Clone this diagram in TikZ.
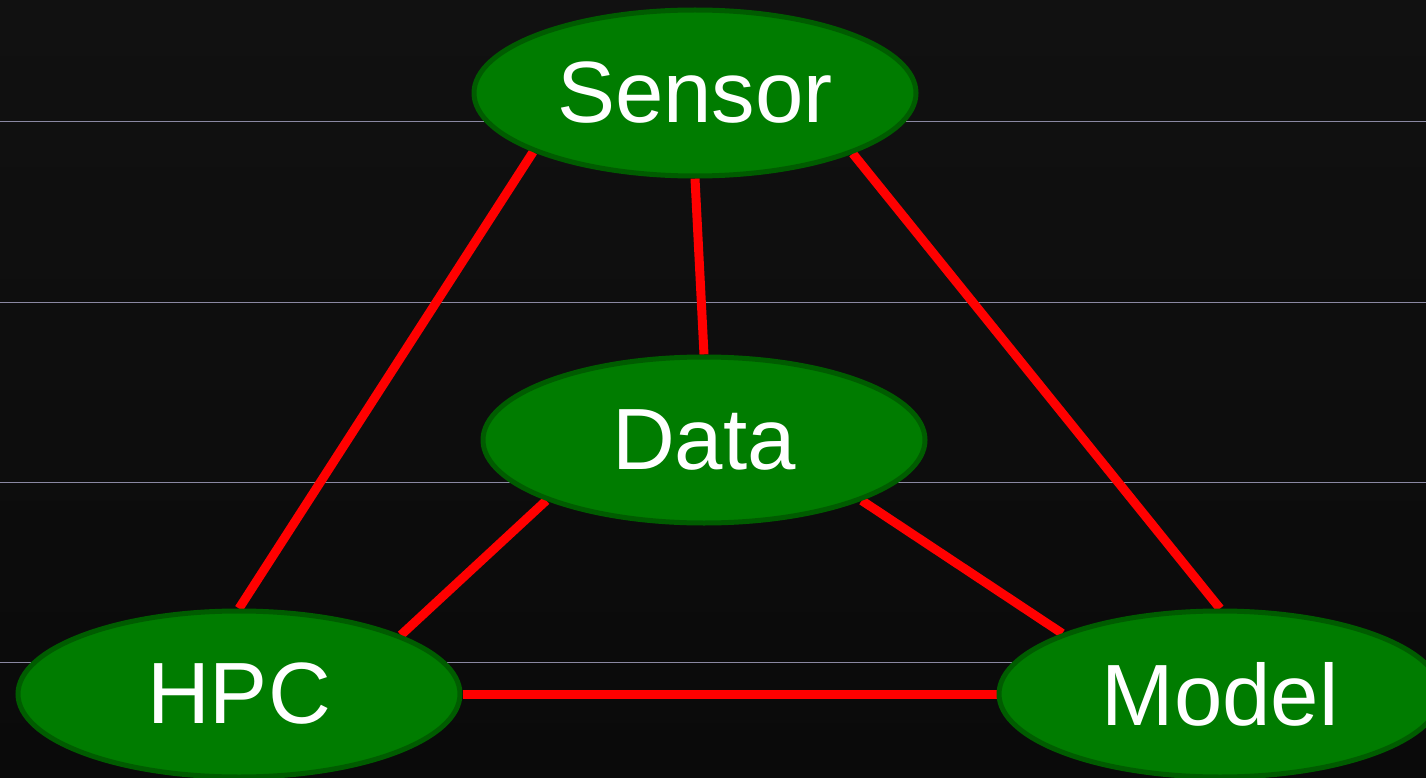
\documentclass[tikz,border=0pt]{standalone}
\usepackage{fontspec}
\setmainfont{Liberation Sans}
\usetikzlibrary{shapes.geometric,backgrounds}
\definecolor{bgtop}{HTML}{111111}
\definecolor{bgbot}{HTML}{0A0A0A}
\definecolor{rule}{HTML}{8A88A2}
\definecolor{nodefill}{HTML}{007C00}
\definecolor{nodeedge}{HTML}{005C00}
\definecolor{linkred}{HTML}{FF0000}
\tikzset{
  topic/.style={ellipse, draw=nodeedge, fill=nodefill, line width=5pt,
    minimum width=442pt, minimum height=166pt, inner sep=0pt,
    text=white, font=\fontsize{87}{100}\selectfont},
  link/.style={draw=linkred, line width=9pt},
  guide/.style={draw=rule, line width=1pt}
}
\begin{document}
\begin{tikzpicture}[x=1pt,y=-1pt]
  \useasboundingbox (0,0) rectangle (1426,778);

  \node[topic] (sensor) at (695,93)  {Sensor};
  \node[topic] (data)   at (704,440) {Data};
  \node[topic] (hpc)    at (239,694) {HPC};
  \node[topic] (model)  at (1220,694) {Model};

  \begin{scope}[on background layer]
    % backdrop and horizontal guide rules
    \shade[top color=bgtop, bottom color=bgbot] (0,0) rectangle (1426,778);
    \foreach \yy in {122,302,482,662} \draw[guide] (0,\yy) -- (1426,\yy);
    % connectors between the topics
    \draw[link] (sensor.200.8) -- (hpc.north);
    \draw[link] (sensor.south) -- (data.north);
    \draw[link] (sensor.339.2) -- (model.north);
    \draw[link] (data.201) -- (hpc.20.7);
    \draw[link] (data.339) -- (model.159.2);
    \draw[link] (hpc.east) -- (model.west);
  \end{scope}
\end{tikzpicture}
\end{document}
